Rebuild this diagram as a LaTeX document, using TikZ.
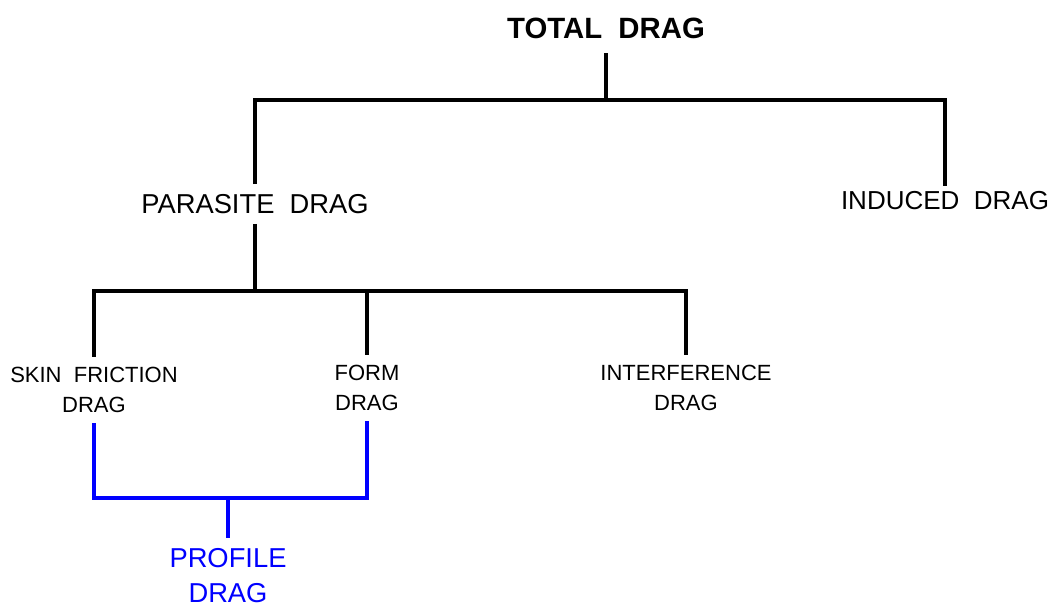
\documentclass[tikz,border=0pt]{standalone}
\usepackage{fontspec}
\setmainfont{Liberation Sans}
\usepackage{tikz}
\usetikzlibrary{positioning,calc}
\definecolor{Ink}{HTML}{000000}
\definecolor{ProfBlue}{HTML}{0000FF}

\begin{document}
\begin{tikzpicture}[x=0.75pt,y=-0.75pt,
    top/.style={inner xsep=0pt,inner ysep=11pt,font=\fontsize{22}{26}\selectfont\bfseries},
    mid/.style={inner xsep=0pt,inner ysep=7.5pt,font=\fontsize{19.5}{24}\selectfont},
    low/.style={inner xsep=0pt,inner ysep=7.5pt,align=center,
      font=\fontsize{16.5}{22.5}\selectfont},
    prof/.style={inner xsep=0pt,inner ysep=7.5pt,align=center,text=ProfBlue,
      font=\fontsize{20.5}{26}\selectfont},
    link/.style={line width=3pt,Ink},
    plink/.style={line width=3pt,ProfBlue}
  ]
    \useasboundingbox (0,0) rectangle (1063,610);
    % tree nodes
    \node[top] (total) at (606,28) {TOTAL\ \ DRAG};
    \node[mid,font=\fontsize{20.5}{24}\selectfont] (parasite) at (255,204) {PARASITE\ \ DRAG};
    \node[mid,inner ysep=4pt] (induced) at (945,201) {INDUCED\ \ DRAG};
    \node[low] (skin) at (94,390) {SKIN\ \ FRICTION\\DRAG};
    \node[low] (form) at (367,388) {FORM\\DRAG};
    \node[low] (interf) at (686,388) {INTERFERENCE\\DRAG};
    \node[prof] (profile) at (228,575.5) {PROFILE\\DRAG};
    % junctions
    \coordinate (j1) at (606,100);
    \coordinate (j2) at (253,291);
    \coordinate (j3) at (228,498);
    % connectors
    \draw[link] (total.south) -- (j1);
    \draw[link] (parasite.north) |- (j1) -| (induced.north);
    \draw[link] (parasite.south) -- (parasite.south |- j2);
    \draw[link] (skin.north) |- (j2) -| (interf.north);
    \draw[link] (form.north) -- (form.north |- j2);
    \draw[plink] (skin.south) |- (j3) -| (form.south);
    \draw[plink] (j3) -- (profile.north);
  \end{tikzpicture}
\end{document}
